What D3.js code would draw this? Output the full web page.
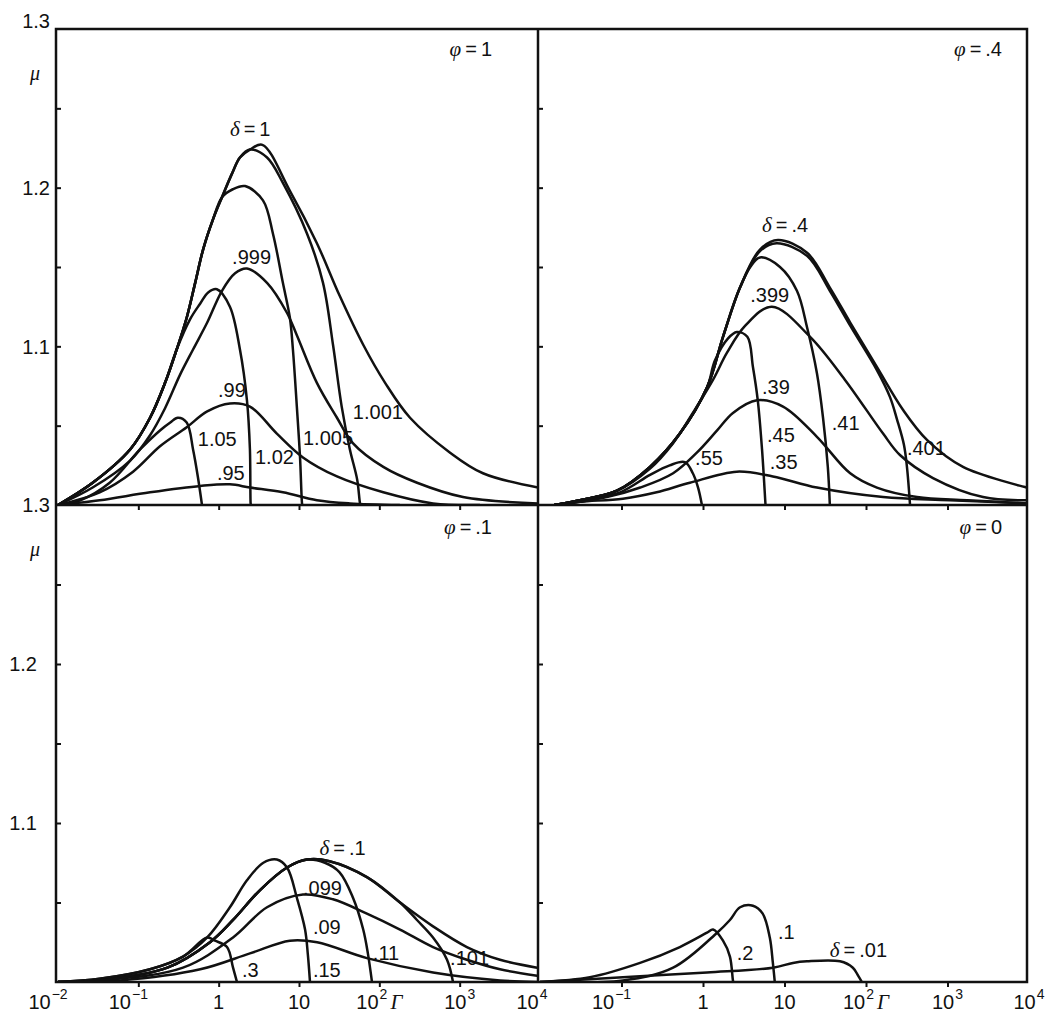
<!DOCTYPE html>
<html>
<head>
<meta charset="utf-8">
<script src="https://d3js.org/d3.v7.min.js"></script>
<style>
  body { margin: 0; background: #fff; }
  svg { display: block; }
  text { font-family: "Liberation Sans", Arial, sans-serif; fill: #111; }
  .greek { font-family: "Liberation Serif", "DejaVu Serif", serif; font-style: italic; }
</style>
</head>
<body>
<svg id="chart" width="1055" height="1018"></svg>
<script>
// every point is [Gamma, mu]

// --- phi = 1 ---
const phi1_rise = [[0.01,1.0],[0.027,1.014],[0.079,1.035],[0.14,1.055],[0.215,1.077],[0.30,1.098]];
const phi1_rise2 = [[0.40,1.118],[0.51,1.140],[0.64,1.161],[0.85,1.180],[1.10,1.194]];
const phi1_d1 = [...phi1_rise, ...phi1_rise2, [1.47,1.209],[1.84,1.219],[2.45,1.224],[3.5,1.227],[7.7,1.198],[16.7,1.165],[32,1.132],[63,1.101],[118,1.077],[241,1.055],[760,1.033],[1950,1.020],[9440,1.011]];
const phi1_d1001 = [...phi1_rise, ...phi1_rise2, [1.47,1.209],[1.84,1.219],[2.45,1.224],[4.0,1.219],[6.3,1.203],[12.6,1.171],[19.9,1.140],[26.5,1.101],[34,1.062],[43,1.035],[53,1.016],[57.5,1.001],[58.5,1.0]];
const phi1_d1005 = [...phi1_rise, ...phi1_rise2, [1.5,1.199],[2.13,1.201],[3.56,1.192],[4.74,1.171],[6.3,1.140],[7.7,1.118],[8.4,1.098],[9.4,1.062],[10.3,1.030],[10.9,1.001],[11.0,1.0]];
const phi1_d102 = [...phi1_rise, [0.44,1.117],[0.59,1.127],[0.74,1.134],[0.95,1.136],[1.38,1.125],[1.84,1.098],[2.25,1.066],[2.45,1.035],[2.5,1.001],[2.52,1.0]];
const phi1_d105 = [[0.01,1.0],[0.019,1.003],[0.044,1.014],[0.105,1.035],[0.186,1.047],[0.25,1.052],[0.31,1.055],[0.40,1.052],[0.48,1.035],[0.55,1.018],[0.62,1.0]];
const phi1_d0999 = [[0.01,1.0],[0.027,1.011],[0.079,1.028],[0.14,1.044],[0.215,1.061],[0.33,1.082],[0.48,1.098],[0.72,1.115],[1.10,1.135],[1.6,1.146],[2.25,1.149],[4.0,1.140],[7.1,1.121],[9.4,1.107],[16.7,1.077],[29.7,1.055],[46.8,1.039],[112,1.024],[295,1.014],[1100,1.005],[9440,1.001]];
const phi1_d099 = [[0.01,1.0],[0.033,1.008],[0.086,1.021],[0.186,1.037],[0.40,1.049],[0.72,1.059],[1.38,1.064],[2.45,1.062],[5.3,1.045],[11.2,1.030],[29.7,1.018],[112,1.008],[466,1.001],[1790,1.0]];
const phi1_d095 = [[0.01,1.0],[0.033,1.003],[0.14,1.008],[0.59,1.012],[1.38,1.013],[2.45,1.011],[6.3,1.008],[16.7,1.003],[43,1.001],[180,1.0]];

// --- phi = .4 ---
const phi4_rise = [[0.015,1.0],[0.031,1.003],[0.088,1.009],[0.224,1.024],[0.52,1.045],[1.12,1.074]];
const phi4_d04 = [...phi4_rise, [1.76,1.106],[2.84,1.137],[5.0,1.161],[8.3,1.167],[18.9,1.159],[36,1.137],[64,1.115],[136,1.087],[284,1.060],[560,1.041],[1550,1.024],[9440,1.011]];
const phi4_d0401 = [...phi4_rise, [1.76,1.106],[2.84,1.137],[5.0,1.160],[8.0,1.165],[18.9,1.157],[36,1.135],[64,1.113],[136,1.085],[197,1.068],[240,1.054],[292,1.038],[318,1.024],[347,1.0]];
const phi4_d041 = [...phi4_rise, [1.76,1.106],[2.84,1.137],[3.8,1.150],[5.0,1.156],[8.8,1.150],[14.2,1.135],[18.9,1.112],[25,1.083],[29.7,1.055],[34,1.024],[36,1.0]];
const phi4_d045 = [...phi4_rise, [1.40,1.091],[2.03,1.105],[2.6,1.109],[3.5,1.106],[4.1,1.087],[4.7,1.066],[5.3,1.035],[5.8,1.003],[5.85,1.0]];
const phi4_d055 = [[0.015,1.0],[0.031,1.002],[0.096,1.008],[0.224,1.019],[0.39,1.025],[0.60,1.027],[0.75,1.020],[0.87,1.011],[0.97,1.0]];
const phi4_d0399 = [[0.015,1.0],[0.031,1.003],[0.088,1.009],[0.224,1.023],[0.43,1.039],[0.75,1.058],[1.33,1.079],[1.97,1.096],[3.3,1.113],[7.0,1.125],[20.6,1.106],[55,1.079],[162,1.045],[261,1.0315],[664,1.017],[2730,1.005],[9440,1.003]];
const phi4_d039 = [[0.015,1.0],[0.066,1.005],[0.17,1.011],[0.43,1.020],[0.84,1.033],[1.49,1.047],[2.33,1.058],[4.6,1.066],[9.6,1.062],[25,1.043],[64,1.020],[136,1.011],[423,1.005],[1740,1.003],[9440,1.001]];
const phi4_d035 = [[0.015,1.0],[0.031,1.002],[0.104,1.004],[0.27,1.008],[0.69,1.014],[2.6,1.021],[7.2,1.018],[25,1.011],[162,1.005],[1070,1.003],[9440,1.001]];

// --- phi = .1 ---
const phi01_steep = [[0.01,1.0],[0.033,1.002],[0.14,1.008],[0.36,1.016],[0.72,1.028]];
const phi01_rise = [[0.01,1.0],[0.033,1.001],[0.23,1.009],[0.78,1.025],[1.51,1.039],[3.3,1.058],[7.1,1.072],[12.6,1.077]];
const phi01_d03 = [...phi01_steep, [0.90,1.026],[1.27,1.022],[1.51,1.009],[1.69,1.0]];
const phi01_d015 = [...phi01_steep, [1.38,1.047],[2.25,1.064],[3.6,1.075],[5.3,1.077],[7.1,1.072],[9.4,1.053],[11.9,1.033],[12.9,1.017],[13.7,1.0]];
const phi01_d011 = [...phi01_rise, [21,1.075],[32,1.069],[47,1.053],[63,1.033],[72,1.018],[81,1.0]];
const phi01_d01 = [...phi01_rise, [24,1.076],[70,1.066],[181,1.050],[466,1.035],[1230,1.022],[3180,1.014],[9200,1.009]];
const phi01_d0101 = [...phi01_rise, [24,1.076],[70,1.066],[181,1.050],[294,1.039],[466,1.028],[696,1.014],[826,1.0]];
const phi01_d0099 = [[0.01,1.0],[0.033,1.001],[0.36,1.009],[1.51,1.028],[4.0,1.047],[11.2,1.055],[26.5,1.052],[70,1.043],[181,1.033],[466,1.022],[1230,1.014],[3180,1.008],[9200,1.004]];
const phi01_d009 = [[0.01,1.0],[0.059,1.001],[0.59,1.008],[2.45,1.018],[7.7,1.026],[16.8,1.025],[70,1.015],[466,1.006],[3180,1.001],[9200,1.0]];

// --- phi = 0 ---
const phi0_d02 = [[0.01,1.0],[0.041,1.003],[0.169,1.012],[0.52,1.022],[1.12,1.031],[1.33,1.033],[1.76,1.026],[2.14,1.016],[2.33,1.001],[2.36,1.0]];
const phi0_d01 = [[0.01,1.0],[0.104,1.001],[0.43,1.009],[1.49,1.031],[2.14,1.039],[2.85,1.047],[4.1,1.048],[5.4,1.043],[6.6,1.028],[7.2,1.012],[7.6,1.0]];
const phi0_d001 = [[0.01,1.0],[0.104,1.003],[1.12,1.006],[7.2,1.009],[12.7,1.012],[18.9,1.013],[48,1.013],[69,1.009],[80,1.004],[89,1.0]];

// curve labels: [text, Gamma, mu] (left edge, baseline)
const labels_phi1 = [['δ = 1',1.38,1.2325],['.999',1.47,1.152],['.99',0.98,1.068],['1.05',0.55,1.037],['1.02',2.83,1.026],['.95',0.95,1.016],['1.005',11.2,1.038],['1.001',46.8,1.054]];
const labels_phi4 = [['δ = .4',5.3,1.172],['.399',3.8,1.128],['.39',5.3,1.070],['.45',6.1,1.040],['.55',0.80,1.025],['.35',6.6,1.023],['.41',38,1.047],['.401',318,1.0315]];
const labels_phi01 = [['δ = .1',18,1.080],['.099',11.2,1.055],['.09',14.9,1.030],['.3',1.95,1.003],['.15',14.9,1.003],['.11',83,1.014],['.101',760,1.011]];
const labels_phi0 = [['.2',2.6,1.014],['.1',8.3,1.027],['δ = .01',36,1.016]];

// axis text
const yLabelsTop = [[1.3,'1.3'],[1.2,'1.2'],[1.1,'1.1'],[1.0,'1.3']];
const yLabelsBottom = [[1.2,'1.2'],[1.1,'1.1']];
const xLabelVals = [1e-2, 1e-1, 1, 10, 100, 1000, 1e4];
const xLabelBase = ['10','10','1','10','10','10','10'];
const xLabelExp  = ['\u22122','\u22121','','','2','3','4'];
const xTicks = [0.1, 1, 10, 100, 1000];
const yTicks = [1.05, 1.1, 1.15, 1.2, 1.25];

const panels = [
  { phi: '1',  curves: [phi1_d1, phi1_d1001, phi1_d1005, phi1_d102, phi1_d105, phi1_d0999, phi1_d099, phi1_d095], labels: labels_phi1,
    x0: 56, x1: 538, y0: 29, y1: 505, xr: [58, 540], left: true, top: true },
  { phi: '.4', curves: [phi4_d04, phi4_d0401, phi4_d041, phi4_d045, phi4_d055, phi4_d0399, phi4_d039, phi4_d035], labels: labels_phi4,
    x0: 538, x1: 1027, y0: 29, y1: 505, xr: [540, 1029], left: false, top: true },
  { phi: '.1', curves: [phi01_d03, phi01_d015, phi01_d011, phi01_d01, phi01_d0101, phi01_d0099, phi01_d009], labels: labels_phi01,
    x0: 56, x1: 538, y0: 505, y1: 982, xr: [58, 540], left: true, top: false },
  { phi: '0',  curves: [phi0_d02, phi0_d01, phi0_d001], labels: labels_phi0,
    x0: 538, x1: 1027, y0: 505, y1: 982, xr: [540, 1029], left: false, top: false }
];

const svg = d3.select('#chart');
const ink = '#111';

function greekText(sel, str) {
  // δ / φ written italic, the rest upright
  if (str[0] === 'δ' || str[0] === 'φ') {
    sel.append('tspan').attr('class', 'greek').attr('font-size', 21).text(str[0]);
    sel.append('tspan').text(str.slice(1).replace(/ /g, '\u2009'));
  } else {
    sel.text(str);
  }
}

panels.forEach((p, i) => {
  const x = d3.scaleLog().domain([1e-2, 1e4]).range(p.xr);
  const y = d3.scaleLinear().domain([1, 1.3]).range([p.y1, p.y0]);

  svg.append('clipPath').attr('id', 'clip' + i)
    .append('rect')
    .attr('x', p.x0).attr('y', p.y0)
    .attr('width', p.x1 - p.x0).attr('height', p.y1 - p.y0);

  const line = d3.line()
    .x(d => x(d[0]))
    .y(d => y(d[1]))
    .curve(d3.curveCatmullRom.alpha(0.5));

  svg.append('g')
    .attr('clip-path', `url(#clip${i})`)
    .selectAll('path')
    .data(p.curves)
    .join('path')
    .attr('d', line)
    .attr('fill', 'none')
    .attr('stroke', ink)
    .attr('stroke-width', 2.5)
    .attr('stroke-linejoin', 'round');

  // curve labels
  p.labels.forEach(([t, g, m]) => {
    const txt = svg.append('text')
      .attr('x', x(g)).attr('y', y(m))
      .attr('font-size', 20);
    greekText(txt, t);
  });

  // small ticks, inward on the left edge, downward on the bottom edge
  const yAxis = svg.append('g')
    .attr('transform', `translate(${p.x0},0)`)
    .call(d3.axisRight(y).tickValues(yTicks).tickSize(5).tickFormat(''));
  const xAxis = svg.append('g')
    .attr('transform', `translate(0,${p.y1})`)
    .call(d3.axisBottom(x).tickValues(xTicks).tickSize(5).tickFormat(''));
  [yAxis, xAxis].forEach(a => {
    a.select('.domain').remove();
    a.selectAll('line').attr('stroke', ink).attr('stroke-width', 2);
  });

  // phi label
  const phiTxt = svg.append('text')
    .attr('x', p.left ? 492 : 1002)
    .attr('y', p.y0 + (p.top ? 27 : 29))
    .attr('text-anchor', 'end')
    .attr('font-size', 20);
  greekText(phiTxt, 'φ = ' + p.phi);

  // y labels on the left panels
  if (p.left) {
    const lab = p.top ? yLabelsTop : yLabelsBottom;
    const lx = p.top ? 50 : 37;
    lab.forEach(([v, t]) => {
      svg.append('text')
        .attr('x', lx).attr('y', y(v) - (v === 1.3 ? 8 : 0)).attr('dy', '0.36em')
        .attr('text-anchor', 'end')
        .attr('font-size', 20)
        .text(t);
    });
    svg.append('text')
      .attr('class', 'greek')
      .attr('x', 35).attr('y', y(1.27) + 3)
      .attr('text-anchor', 'middle')
      .attr('font-size', 20)
      .text('μ');
  }

  // bottom labels: whole label centred under its tick
  if (!p.top) {
    xLabelVals.forEach((v, k) => {
      if (!p.left && k === 0) return;
      let cx = x(v);
      if (xLabelExp[k].startsWith('\u2212')) cx -= 10;
      if (p.left && k === xLabelVals.length - 1) cx -= 8;
      const t = svg.append('text')
        .attr('x', cx).attr('y', 1009)
        .attr('text-anchor', 'middle')
        .attr('font-size', 20);
      t.append('tspan').text(xLabelBase[k]);
      if (xLabelExp[k]) {
        t.append('tspan').attr('dx', 1).attr('dy', -10).attr('font-size', 14).text(xLabelExp[k]);
      }
      if (v === 100) {
        t.append('tspan').attr('class', 'greek').attr('dx', 3).attr('dy', 10).attr('font-size', 21).text('Γ');
      }
    });
  }
});

// frame and dividers
svg.append('rect')
  .attr('x', 56).attr('y', 29).attr('width', 1027 - 56).attr('height', 982 - 29)
  .attr('fill', 'none').attr('stroke', ink).attr('stroke-width', 2.5);
svg.append('line').attr('x1', 538).attr('x2', 538).attr('y1', 29).attr('y2', 982)
  .attr('stroke', ink).attr('stroke-width', 2.5);
svg.append('line').attr('x1', 56).attr('x2', 1027).attr('y1', 505).attr('y2', 505)
  .attr('stroke', ink).attr('stroke-width', 2.5);
</script>
</body>
</html>
